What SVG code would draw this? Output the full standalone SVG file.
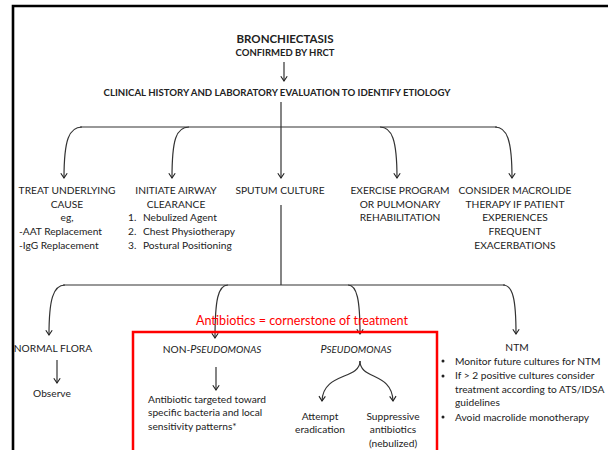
<svg xmlns="http://www.w3.org/2000/svg" width="608" height="450" viewBox="0 0 608 450">
<defs>
<marker id="ah" viewBox="0 0 10 10" refX="9" refY="5" markerWidth="8" markerHeight="8" markerUnits="userSpaceOnUse" orient="auto">
<path d="M3,1 L9,5 L3,9" fill="none" stroke="#222" stroke-width="1.4"/>
</marker>
<style>
text{font-family:Lato,"Liberation Sans",sans-serif;fill:#222;font-size:10.2px}
.c{text-anchor:middle}
.b{font-weight:bold}
.t{font-size:11.5px}
.red{fill:#ff0000;font-size:12.6px}
.it{font-style:italic}
.pc{font-size:10.8px}
.sc{font-size:9.8px}
.ln{fill:none;stroke:#333;stroke-width:1.2}
.ar{marker-end:url(#ah)}
</style>
</defs>
<rect width="608" height="450" fill="#fff"/>
<path d="M13,450 V6 H608" fill="none" stroke="#000" stroke-width="2.6"/>

<g id="connectors">
<path class="ln ar" d="M284,62 V81"/>
<path class="ln" d="M281,102 V127"/>
<path class="ln" d="M80,127 H497"/>
<path class="ln ar" d="M82,127 C69,127 64,140 64,178"/>
<path class="ln ar" d="M189,127 C176,127 172,140 172,178"/>
<path class="ln ar" d="M281,127 V178"/>
<path class="ln ar" d="M380,127 C392,127 397,140 397,178"/>
<path class="ln ar" d="M495,127 C507,127 512,140 512,178"/>
<path class="ln" d="M281,205 V285"/>
<path class="ln" d="M63,285 H505"/>
<path class="ln ar" d="M65,285 C53,285 49,300 49,335"/>
<path class="ln ar" d="M228,285 C218,285 215,300 215,338"/>
<path class="ln ar" d="M348,285 C357,285 360,300 360,334"/>
<path class="ln ar" d="M503,285 C513,285 516,300 516,334"/>
<path class="ln ar" d="M57,360 V383"/>
<path class="ln ar" d="M216,367 V390"/>
<path class="ln ar" d="M360,361 C360,380 323,372 322,401"/>
<path class="ln ar" d="M360,361 C360,380 392,372 393,401"/>
</g>

<g id="n-bronchiectasis">
<text class="c b t" x="285" y="42.5">BRONCHIECTASIS</text>
<text class="c b" x="285" y="56" style="font-size:9.5px">CONFIRMED BY HRCT</text>
</g>
<g id="n-clinical">
<text class="c b" x="277" y="95.5" style="font-size:9.65px">CLINICAL HISTORY AND LABORATORY EVALUATION TO IDENTIFY ETIOLOGY</text>
</g>
<g id="n-treat">
<text class="c" x="67" y="193.5">TREAT UNDERLYING</text>
<text class="c" x="67" y="207.5">CAUSE</text>
<text class="c" x="67" y="221">eg,</text>
<text x="19" y="234.5">-AAT Replacement</text>
<text x="19" y="248.5">-IgG Replacement</text>
</g>
<g id="n-airway">
<text class="c" x="176" y="193.5">INITIATE AIRWAY</text>
<text class="c" x="176" y="207.5">CLEARANCE</text>
<text x="128" y="221">1.</text><text x="143" y="221">Nebulized Agent</text>
<text x="128" y="234.5">2.</text><text x="143" y="234.5">Chest Physiotherapy</text>
<text x="128" y="248.5">3.</text><text x="143" y="248.5">Postural Positioning</text>
</g>
<g id="n-sputum">
<text class="c" x="280" y="193.5">SPUTUM CULTURE</text>
</g>
<g id="n-exercise">
<text class="c" x="400" y="193.5">EXERCISE PROGRAM</text>
<text class="c" x="400" y="207.5">OR PULMONARY</text>
<text class="c" x="400" y="221">REHABILITATION</text>
</g>
<g id="n-macrolide">
<text class="c" x="515" y="193.5">CONSIDER MACROLIDE</text>
<text class="c" x="515" y="207.5">THERAPY IF PATIENT</text>
<text class="c" x="515" y="221">EXPERIENCES</text>
<text class="c" x="515" y="234.5">FREQUENT</text>
<text class="c" x="515" y="248.5">EXACERBATIONS</text>
</g>
<g id="n-antibiotics">
<rect x="133" y="332" width="304" height="130" fill="none" stroke="#ff0000" stroke-width="2.5"/>
<text class="c red" x="302" y="325">Antibiotics = cornerstone of treatment</text>
</g>
<g id="n-normal">
<text class="c" x="53" y="351.5">NORMAL FLORA</text>
<text class="c" x="52" y="396.5">Observe</text>
</g>
<g id="n-nonpseudo">
<text class="c" x="212" y="352.5">NON-<tspan class="it pc">P</tspan><tspan class="it sc">SEUDOMONAS</tspan></text>
<text x="148" y="402.5">Antibiotic targeted toward</text>
<text x="148" y="416">specific bacteria and local</text>
<text x="148" y="430">sensitivity patterns*</text>
</g>
<g id="n-pseudo">
<text class="c it" x="356" y="352.5"><tspan class="pc">P</tspan><tspan class="sc">SEUDOMONAS</tspan></text>
<text class="c" x="320" y="419.5">Attempt</text>
<text class="c" x="320" y="432.5">eradication</text>
<text class="c" x="393" y="419.5">Suppressive</text>
<text class="c" x="393" y="432.5">antibiotics</text>
<text class="c" x="393" y="446.5">(nebulized)</text>
</g>
<g id="n-ntm">
<text class="c" x="517" y="350.5">NTM</text>
<circle cx="443" cy="361" r="1.5" fill="#222"/>
<circle cx="443" cy="376" r="1.5" fill="#222"/>
<circle cx="443" cy="417" r="1.5" fill="#222"/>
<text x="455" y="364.5">Monitor future cultures for NTM</text>
<text x="455" y="379">If &gt; 2 positive cultures consider</text>
<text x="455" y="392.5">treatment according to ATS/IDSA</text>
<text x="455" y="406">guidelines</text>
<text x="455" y="420.5">Avoid macrolide monotherapy</text>
</g>
</svg>
